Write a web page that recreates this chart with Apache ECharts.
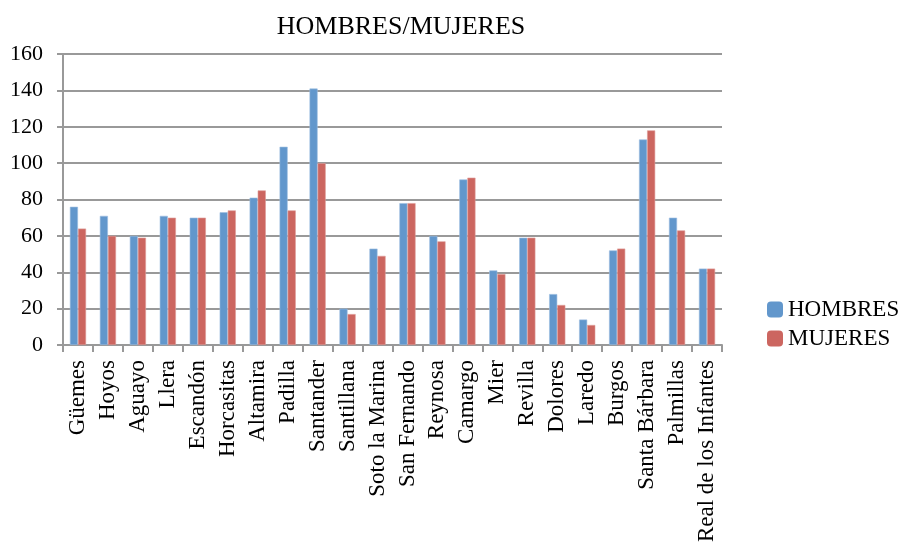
<!DOCTYPE html>
<html><head><meta charset="utf-8">
<script src="https://cdn.jsdelivr.net/npm/echarts@6/dist/echarts.min.js"></script>
<style>html,body{margin:0;padding:0;background:#fff}#c{width:914px;height:550px}</style>
</head><body><div id="c"></div>
<script>
const categories = ["Güemes","Hoyos","Aguayo","Llera","Escandón","Horcasitas","Altamira","Padilla","Santander","Santillana","Soto la Marina","San Fernando","Reynosa","Camargo","Mier","Revilla","Dolores","Laredo","Burgos","Santa Bárbara","Palmillas","Real de los Infantes"];
const hombres = [76,71,60,71,70,73,81,109,141,20,53,78,60,91,41,59,28,14,52,113,70,42];
const mujeres = [64,60,59,70,70,74,85,74,100,17,49,78,57,92,39,59,22,11,53,118,63,42];
const yTicks = [0,20,40,60,80,100,120,140,160];
</script>
<script>
const F = '"Liberation Serif","DejaVu Serif",serif';
const chart = echarts.init(document.getElementById('c'));
chart.setOption({
  animation:false,
  title:{text:'HOMBRES/MUJERES',left:396,top:9,textAlign:'center',
    textStyle:{fontFamily:F,fontSize:26,fontWeight:'normal',color:'#000'}},
  legend:{orient:'vertical',left:762,top:293,itemWidth:16,itemHeight:16,itemGap:6,
    itemStyle:{borderWidth:0},
    textStyle:{fontFamily:F,fontSize:23,color:'#000'},
    data:['HOMBRES','MUJERES']},
  grid:{left:63,right:192,top:54,bottom:205},
  xAxis:{type:'category',data:categories,
    axisLine:{lineStyle:{color:'#999',width:2}},
    axisTick:{show:true,length:7,lineStyle:{color:'#999',width:2}},
    axisLabel:{rotate:90,fontFamily:F,fontSize:23,color:'#000',margin:15,interval:0}},
  yAxis:{type:'value',min:0,max:160,interval:20,
    axisLine:{show:true,lineStyle:{color:'#999',width:2}},
    axisTick:{show:true,length:6,lineStyle:{color:'#999',width:2}},
    splitLine:{lineStyle:{color:'#999',width:2}},
    axisLabel:{fontFamily:F,fontSize:22,color:'#000',margin:20,
      formatter:v=>yTicks.includes(v)?String(v):''}},
  series:[
    {name:'HOMBRES',type:'bar',data:hombres,barGap:'0%',barCategoryGap:'46%',
      itemStyle:{color:'#6297CC',borderColor:'#9DBDE0',borderWidth:0.6}},
    {name:'MUJERES',type:'bar',data:mujeres,
      itemStyle:{color:'#CC6660',borderColor:'#DE9C98',borderWidth:0.6}}
  ]
});
</script></body></html>
